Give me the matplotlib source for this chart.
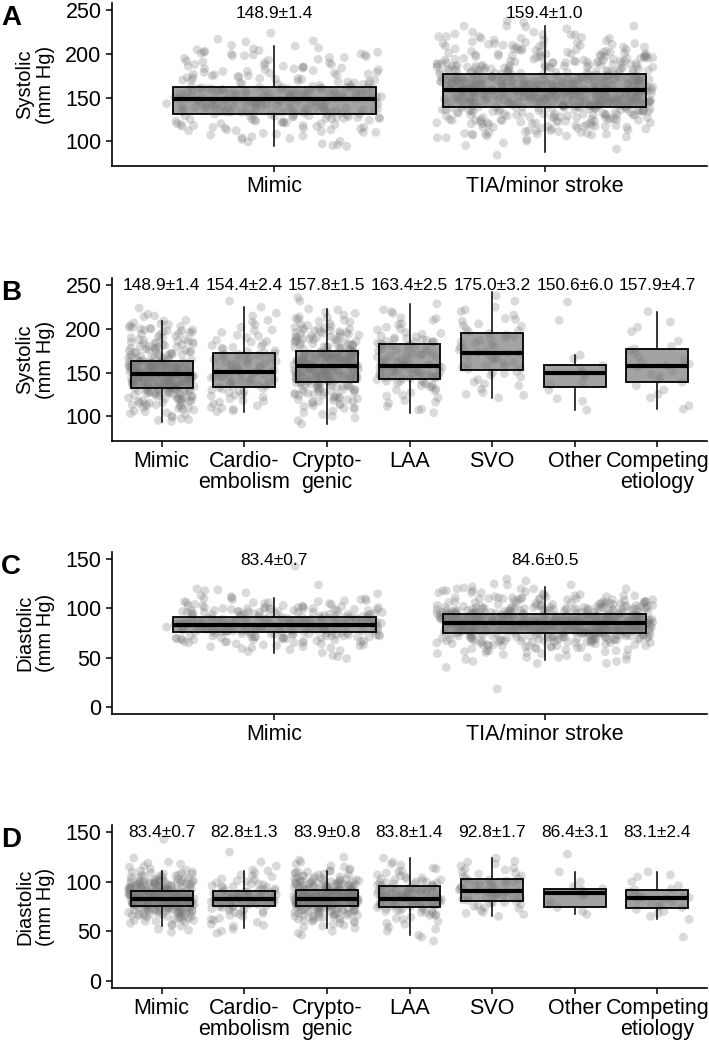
import matplotlib

matplotlib.use("Agg")
import matplotlib.pyplot as plt
import numpy as np

plt.rcParams["font.family"] = ["Liberation Sans", "DejaVu Sans"]

# ---- categories / labels ----
two_groups = ["Mimic", "TIA/minor stroke"]
etiologies = ["Mimic", "Cardio-\nembolism", "Crypto-\ngenic", "LAA", "SVO", "Other", "Competing\netiology"]

sys_means_a = ["148.9±1.4", "159.4±1.0"]
sys_means_b = ["148.9±1.4", "154.4±2.4", "157.8±1.5", "163.4±2.5", "175.0±3.2", "150.6±6.0", "157.9±4.7"]
dia_means_c = ["83.4±0.7", "84.6±0.5"]
dia_means_d = ["83.4±0.7", "82.8±1.3", "83.9±0.8", "83.8±1.4", "92.8±1.7", "86.4±3.1", "83.1±2.4"]

# ---- box statistics: (q1, median, q3, whisker low, whisker high) ----
box_a = [(131.5, 148.0, 162.7, 94, 209), (139.6, 158.4, 177.0, 88, 232)]
box_b = [(131.9, 148.4, 163.4, 93, 209), (133.8, 150.3, 172.3, 105, 225),
         (139.6, 158.1, 174.6, 91, 223), (142.3, 158.1, 182.3, 104, 229),
         (152.7, 171.9, 195.7, 121, 243), (133.8, 149.5, 159.2, 107, 170),
         (139.1, 158.1, 176.6, 108, 220)]
box_c = [(75.7, 83.0, 90.8, 55, 111), (74.5, 85.0, 93.9, 47.5, 122)]
box_d = [(75.1, 83.0, 91.1, 55.4, 110.8), (75.2, 83.0, 91.1, 53, 111),
         (75.5, 83.0, 92.0, 53, 111), (74.1, 83.0, 95.3, 46, 124),
         (81.0, 90.5, 103.0, 65, 124), (74.1, 88.5, 92.5, 67, 110),
         (73.8, 83.6, 92.0, 62, 110)]

# ---- individual points (systolic, mm Hg) ----
sys_mimic = [94, 96, 97, 100, 103, 105, 106, 108, 110, 111, 112, 113, 114, 115, 116, 117, 118, 119, 120, 120,
             121, 122, 123, 124, 124, 125, 126, 126, 127, 127, 128, 128, 129, 129, 130, 130, 131, 131, 131, 116,
             132, 133, 133, 134, 134, 135, 135, 136, 136, 137, 137, 138, 138, 139, 139, 140, 140, 140, 141, 141,
             142, 142, 143, 143, 143, 144, 144, 145, 145, 145, 146, 146, 146, 147, 147, 147, 148, 148, 134, 138,
             148, 149, 149, 150, 150, 150, 151, 151, 152, 152, 153, 153, 154, 154, 155, 155, 156, 156, 157, 157,
             158, 158, 159, 159, 160, 160, 160, 161, 161, 162, 162, 162, 163, 149, 151, 154, 156, 158, 160, 152,
             164, 165, 166, 167, 168, 169, 170, 171, 172, 173, 174, 175, 176, 177, 178, 179, 180, 181, 182, 183,
             184, 185, 186, 188, 190, 192, 194, 196, 198, 199, 200, 201, 202, 203, 205, 207, 209, 215, 224, 196,
             95, 99, 102, 107, 109, 112, 115, 117, 119, 121, 123, 125, 126, 128, 129, 130, 131, 118, 122, 127,
             110, 104, 113, 120, 126, 129, 132, 133, 134, 135, 136, 137, 138, 139, 140, 141, 142, 143, 144, 145,
             146, 147, 135, 137, 139, 141, 143, 145, 140, 133, 149, 150, 151, 152, 153, 154, 155, 156, 157, 158,
             159, 160, 161, 162, 150, 153, 155, 157, 159, 161, 151, 156, 164, 166, 168, 170, 172, 174, 176, 178,
             180, 182, 184, 186, 188, 190, 193, 195, 197, 200, 202, 204, 206, 165, 167, 169, 171, 175, 179, 183,
             187, 191, 199, 210, 214, 217, 198, 170, 185, 177, 173, 163]
sys_cardio = [105, 106, 108, 110, 112, 114, 116, 118, 120, 122, 124, 125, 127, 128, 130, 131, 133,
              134, 135, 136, 138, 139, 140, 141, 142, 143, 144, 145, 146, 147, 148, 149, 150, 150,
              151, 152, 154, 155, 157, 158, 160, 161, 163, 164, 165, 166, 168, 169, 170, 171, 172,
              173, 175, 177, 179, 181, 183, 185, 187, 190, 193, 196, 199, 202, 205, 210, 218, 225, 232, 178,
              109, 117, 123, 129, 132, 137, 141, 145, 148, 151, 153, 156, 159, 162, 167, 171, 174, 180,
              186, 192, 198, 208, 215, 139, 163]
sys_crypto = [91, 95, 98, 102, 106, 108, 110, 112, 114, 116, 117, 118, 119, 120, 121, 122, 123, 124, 125, 126,
              127, 128, 129, 130, 130, 131, 132, 133, 134, 135, 135, 136, 137, 138, 138, 139, 139,
              140, 140, 141, 141, 142, 142, 143, 143, 144, 144, 145, 145, 146, 146, 147, 147, 148, 148, 149,
              149, 150, 150, 151, 151, 152, 152, 153, 153, 154, 154, 155, 155, 156, 156, 157, 157, 158,
              158, 159, 159, 160, 160, 161, 161, 162, 162, 163, 163, 164, 164, 165, 165, 166, 166, 167, 167,
              168, 168, 169, 169, 170, 170, 171, 171, 172, 172, 173, 173, 174, 174, 175, 160, 165, 170,
              176, 177, 178, 179, 180, 181, 182, 183, 184, 185, 186, 187, 188, 189, 190, 191, 192, 193, 194,
              195, 196, 197, 198, 199, 200, 201, 202, 204, 206, 208, 210, 212, 214, 216, 219, 223, 232, 236, 185,
              100, 104, 109, 113, 115, 119, 121, 124, 126, 128, 131, 133, 135, 137, 138, 130, 127, 122, 117, 111,
              125, 136, 134, 132, 140, 141, 142, 143, 144, 145, 146, 147, 148, 149, 150, 151, 152, 153, 154, 155,
              156, 157, 142, 146, 150, 154, 144, 148, 152, 156, 158, 159, 160, 161, 162, 163, 164, 165, 166, 167,
              168, 169, 170, 171, 172, 173, 174, 159, 162, 166, 169, 172, 164, 168, 176, 178, 180, 182, 184, 186,
              188, 190, 192, 194, 196, 198, 200, 203, 205, 209, 213, 218, 222, 179, 183, 187, 191, 195, 201, 211,
              177, 181, 189, 197]
sys_laa = [104, 107, 111, 115, 118, 121, 124, 127, 129, 131, 133, 135, 136, 138, 139, 140, 141,
           142, 143, 144, 145, 146, 147, 148, 149, 150, 151, 152, 153, 154, 155, 156, 157, 158,
           159, 160, 162, 163, 165, 166, 168, 169, 171, 172, 174, 175, 177, 178, 180, 181, 182,
           183, 184, 185, 186, 187, 188, 190, 192, 194, 196, 199, 202, 206, 210, 213, 218, 222, 229, 189,
           108, 116, 123, 130, 134, 137, 140, 143, 145, 147, 149, 151, 153, 155, 157, 159, 161, 164, 167, 170,
           173, 176, 179, 182, 184, 186, 188, 191, 195, 200, 205, 212, 220, 150, 146, 162, 171, 185, 144, 156]
sys_svo = [121, 124, 127, 131, 135, 139, 142, 145, 147, 149, 151,
           154, 156, 158, 160, 162, 164, 166, 168, 170, 171, 172,
           174, 176, 178, 180, 182, 184, 187, 189, 191, 193, 195,
           198, 200, 203, 206, 209, 212, 216, 220, 225, 232, 238,
           125, 137, 150, 155, 161, 167, 173, 179, 185, 190, 197, 204, 211, 222, 169, 158]
sys_other = [231, 210, 170, 166, 158, 155, 151, 148, 145, 139, 136, 130, 120, 117, 107]
sys_competing = [220, 208, 202, 197, 186, 180, 177, 175, 172, 168, 165, 162, 160, 158, 156, 152, 148,
                 145, 142, 139, 135, 130, 125, 121, 112, 108]
sys_tia_unclassified = [84]

# ---- individual points (diastolic, mm Hg) ----
dia_mimic = [49, 51, 55, 57, 58, 60, 61, 62, 63, 64, 65, 66, 66, 67, 67, 68, 68, 69, 69, 70,
             70, 70, 71, 71, 71, 72, 72, 72, 73, 73, 73, 74, 74, 74, 74, 75, 75, 65, 68, 72,
             75, 76, 76, 76, 77, 77, 77, 77, 78, 78, 78, 78, 79, 79, 79, 79, 80, 80, 80, 80,
             80, 81, 81, 81, 81, 82, 82, 82, 82, 83, 83, 83, 83, 76, 78, 80, 81, 82, 79, 77,
             83, 84, 84, 84, 84, 85, 85, 85, 85, 86, 86, 86, 86, 87, 87, 87, 87, 88, 88, 88,
             88, 89, 89, 89, 89, 90, 90, 90, 90, 91, 91, 91, 84, 85, 86, 87, 88, 89, 90, 86,
             92, 92, 93, 93, 94, 94, 95, 95, 96, 96, 97, 97, 98, 98, 99, 99, 100, 100, 101, 101,
             102, 102, 103, 104, 105, 106, 107, 108, 109, 110, 111, 113, 115, 118, 120, 124, 143, 96, 100, 94,
             52, 56, 59, 61, 63, 64, 66, 67, 68, 69, 70, 71, 72, 73, 74, 75, 62, 65, 69, 71,
             73, 74, 60, 70, 72, 66, 76, 77, 78, 79, 80, 81, 82, 76, 77, 78, 79, 80, 81, 82,
             83, 77, 79, 81, 78, 80, 82, 76, 79, 81, 84, 85, 86, 87, 88, 89, 90, 91, 84, 85,
             86, 87, 88, 89, 90, 91, 85, 87, 89, 86, 88, 90, 92, 93, 94, 95, 96, 97, 98, 99,
             100, 101, 102, 103, 104, 105, 106, 107, 108, 109, 110, 93, 95, 97, 99, 101, 92, 94, 96, 98,
             100, 103, 106, 112, 116, 119, 94, 97, 100, 92, 95, 98, 93, 96, 91, 99]
dia_cardio = [48, 52, 55, 57, 59, 61, 63, 65, 66, 68, 69, 70, 71, 72, 73, 74, 75,
              75, 76, 77, 77, 78, 78, 79, 79, 80, 80, 81, 81, 82, 82, 83, 83, 83,
              83, 84, 84, 85, 85, 86, 86, 87, 87, 88, 88, 89, 89, 90, 90, 91, 91,
              92, 93, 94, 95, 96, 97, 98, 99, 100, 101, 103, 105, 107, 109, 111, 116, 120, 130, 95,
              50, 56, 62, 67, 70, 73, 75, 77, 79, 80, 82, 83, 84, 85, 86, 88, 90, 92, 95, 98,
              102, 106, 112, 78, 87]
dia_crypto = [46, 48, 53, 55, 57, 59, 60, 61, 62, 63, 64, 65, 66, 66, 67, 67, 68, 68, 69, 69,
              70, 70, 70, 71, 71, 71, 72, 72, 72, 73, 73, 73, 74, 74, 74, 75, 75,
              76, 76, 76, 77, 77, 77, 77, 78, 78, 78, 78, 79, 79, 79, 79, 80, 80, 80, 80, 80,
              81, 81, 81, 81, 82, 82, 82, 82, 83, 83, 83, 77, 79, 80, 81, 82, 78,
              83, 84, 84, 84, 85, 85, 85, 86, 86, 86, 87, 87, 87, 88, 88, 88, 89, 89, 89,
              90, 90, 90, 91, 91, 91, 92, 92, 84, 85, 86, 87, 88, 89, 90, 91, 86, 88,
              92, 93, 93, 94, 94, 95, 95, 96, 96, 97, 97, 98, 98, 99, 99, 100, 100, 101, 101,
              102, 103, 104, 105, 106, 107, 108, 109, 110, 111, 113, 115, 118, 122, 125, 96, 98, 100, 94, 103,
              50, 54, 56, 58, 60, 62, 63, 64, 65, 66, 67, 68, 69, 70, 71, 72, 73, 74, 75, 61,
              65, 68, 71, 74, 76, 77, 78, 79, 80, 81, 82, 83, 76, 77, 78, 79, 80, 81, 82, 76,
              78, 80, 82, 77, 79, 81, 84, 85, 86, 87, 88, 89, 90, 91, 92, 84, 85, 86, 87, 88,
              89, 90, 91, 85, 87, 89, 91, 86, 88, 90, 93, 94, 95, 96, 97, 98, 99, 100, 101, 102,
              103, 104, 105, 107, 109, 111, 112, 116, 120, 93, 95, 97, 99, 94, 96, 98, 100, 102, 106, 110,
              92, 94, 96, 101]
dia_laa = [40, 46, 50, 54, 57, 60, 62, 64, 66, 67, 68, 69, 70, 71, 72, 73, 74,
           74, 75, 76, 77, 77, 78, 78, 79, 79, 80, 80, 81, 81, 82, 82, 83, 83,
           84, 84, 85, 86, 86, 87, 88, 88, 89, 90, 90, 91, 92, 92, 93, 94, 95,
           96, 97, 98, 99, 100, 101, 102, 103, 104, 105, 107, 109, 111, 114, 117, 120, 124, 99, 103,
           44, 52, 58, 63, 66, 69, 71, 73, 75, 76, 78, 79, 80, 81, 82, 84, 85, 86, 87, 89,
           90, 91, 93, 94, 96, 97, 98, 100, 102, 106, 110, 113, 118, 77, 83, 88, 92, 95, 70, 99]
dia_svo = [65, 67, 69, 71, 73, 75, 76, 77, 78, 79, 80,
           81, 82, 83, 84, 85, 86, 87, 88, 89, 90, 90,
           91, 92, 93, 94, 96, 97, 98, 99, 100, 101, 102,
           103, 104, 106, 108, 110, 112, 114, 116, 118, 121, 124,
           68, 74, 79, 83, 86, 88, 91, 93, 95, 98, 101, 105, 109, 113, 120, 89]
dia_other = [128, 110, 100, 95, 93, 92, 90, 89, 88, 86, 80, 77, 74, 70, 67]
dia_competing = [110, 107, 105, 100, 96, 93, 92, 90, 88, 86, 85, 84, 84, 83, 82, 80, 78,
                 77, 75, 74, 72, 70, 68, 65, 62, 44]
dia_tia_unclassified = [18]

sys_groups = [sys_mimic, sys_cardio, sys_crypto, sys_laa, sys_svo, sys_other, sys_competing]
dia_groups = [dia_mimic, dia_cardio, dia_crypto, dia_laa, dia_svo, dia_other, dia_competing]
sys_two = [sys_mimic, sum(sys_groups[1:], []) + sys_tia_unclassified]
dia_two = [dia_mimic, sum(dia_groups[1:], []) + dia_tia_unclassified]

TICK_FS = 15.5
POINT_COLOR = "#7a7a7a"
BOX_FILL = "#a3a3a3"


def jitter(n, seed, width=0.8):
    # deterministic, irregular-looking horizontal spread
    i = np.arange(n) + seed * 97.0
    frac = np.sin(i * 12.9898 + 78.233) * 43758.5453
    frac = frac - np.floor(frac)
    return (frac - 0.5) * width


def draw_panel(ax, groups, stats, labels, means, ylim, yticks, label_y):
    positions = np.arange(1, len(groups) + 1)
    bxp_stats = [
        {"q1": s[0], "med": s[1], "q3": s[2], "whislo": s[3], "whishi": s[4], "fliers": []}
        for s in stats
    ]
    # box fill below the points
    ax.bxp(bxp_stats, positions=positions, widths=0.75, showcaps=False, showfliers=False,
           patch_artist=True,
           boxprops=dict(facecolor=BOX_FILL, edgecolor="none", linewidth=0),
           medianprops=dict(linewidth=0), whiskerprops=dict(linewidth=0), zorder=1)
    for k, (pos, vals) in enumerate(zip(positions, groups)):
        vals = np.asarray(vals, dtype=float)
        ax.scatter(pos + jitter(len(vals), k + len(groups)), vals, s=40, color=POINT_COLOR,
                   alpha=0.28, edgecolors="none", zorder=2)
    # outlines, whiskers and medians on top
    ax.bxp(bxp_stats, positions=positions, widths=0.75, showcaps=False, showfliers=False,
           patch_artist=True,
           boxprops=dict(facecolor="none", edgecolor="black", linewidth=1.3),
           medianprops=dict(color="black", linewidth=3.0, solid_capstyle="butt"),
           whiskerprops=dict(color="black", linewidth=1.1), zorder=3)
    for pos, txt in zip(positions, means):
        ax.text(pos, label_y, txt, ha="center", va="center", fontsize=12.5, zorder=4)

    ax.set_xlim(0.4, len(groups) + 0.6)
    ax.set_ylim(*ylim)
    ax.set_yticks(yticks)
    ax.set_xticks(positions)
    ax.set_xticklabels(labels, fontsize=TICK_FS, linespacing=1.0)
    ax.tick_params(axis="y", labelsize=TICK_FS)
    ax.tick_params(direction="out", length=4.5, width=1.1, pad=3, color="black")
    for side in ("top", "right"):
        ax.spines[side].set_visible(False)
    for side in ("left", "bottom"):
        ax.spines[side].set_linewidth(1.2)


fig = plt.figure(figsize=(7.09, 10.44), dpi=100)
W, H = 709.0, 1044.0
left, right = 112 / W, 707 / W

panels = [
    # (top px, bottom px, letter, title)
    (3, 166, "A", "Systolic\n(mm Hg)"),
    (278, 441, "B", "Systolic\n(mm Hg)"),
    (552, 714, "C", "Diastolic\n(mm Hg)"),
    (825, 988, "D", "Diastolic\n(mm Hg)"),
]
configs = [
    (sys_two, box_a, two_groups, sys_means_a, (71.5, 258.5), [100, 150, 200, 250], 247),
    (sys_groups, box_b, etiologies, sys_means_b, (71.5, 258.5), [100, 150, 200, 250], 250),
    (dia_two, box_c, two_groups, dia_means_c, (-7.5, 157.5), [0, 50, 100, 150], 149),
    (dia_groups, box_d, etiologies, dia_means_d, (-7.5, 157.5), [0, 50, 100, 150], 150),
]

for (top, bot, letter, title), cfg in zip(panels, configs):
    ax = fig.add_axes([left, 1 - bot / H, right - left, (bot - top) / H])
    draw_panel(ax, *cfg)
    fig.text(35 / W, 1 - (top + bot) / 2 / H, title, rotation=90, ha="center", va="center",
             fontsize=14.5, linespacing=1.1, multialignment="center")
    fig.text(1 / W, 1 - (top + 2) / H, letter, ha="left", va="top", fontsize=20, fontweight="bold")

fig.savefig("out.png", dpi=100)
